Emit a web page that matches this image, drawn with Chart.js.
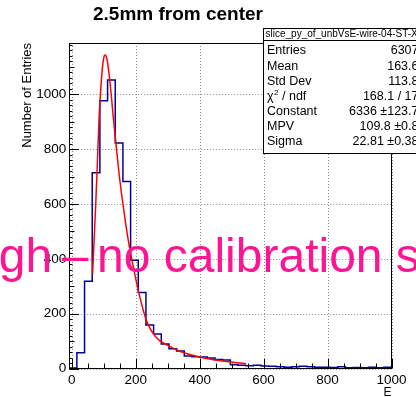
<!DOCTYPE html>
<html>
<head>
<meta charset="utf-8">
<script src="https://cdn.jsdelivr.net/npm/chart.js@4/dist/chart.umd.min.js"></script>
<style>
  html, body { margin: 0; padding: 0; background: #fff; overflow: hidden; }
  #wrap { width: 416px; height: 397px; position: relative; }
</style>
</head>
<body>
<div id="wrap"><canvas id="c" width="416" height="397"></canvas></div>
<script>
// Histogram binning: 42 bins of width 24 starting at -8 (ends at 1000)
const BIN_LOW = -8;
const BIN_WIDTH = 24;
const binCounts = [
  2, 57, 318, 714, 976, 1052, 822, 682, 395, 277,
  159, 126, 89, 72, 64, 46, 43, 42, 38, 33,
  31, 14, 12, 10, 12, 9, 8, 6, 5, 6,
  8, 6, 5, 5, 4, 6, 3, 4, 3, 5,
  3, 5
];

// Landau fit curve (E, entries)
const fitE = [65, 70, 75, 80, 85, 90, 95, 100, 105, 110, 115, 120, 130, 140, 150, 160, 175, 190, 210, 235, 265, 300, 340, 400, 460, 545];
const fitN = [345, 470, 600, 745, 900, 1005, 1085, 1133, 1143, 1128, 1090, 1040, 915, 800, 690, 600, 480, 385, 275, 170, 112, 84, 62, 42, 29, 17];

// Axis ticks
const xTickValues = [0, 200, 400, 600, 800, 1000];
const yTickValues = [0, 200, 400, 600, 800, 1000];
const X_MIN = -8, X_MAX = 1000, Y_MAX = 1187;

// Statistics box
const statsName = "slice_py_of_unbVsE-wire-04-ST-X-5";
const statsLabels = ["Entries", "Mean", "Std Dev", "CHI2", "Constant", "MPV", "Sigma"];
const statsValues = ["6307", "163.6", "113.8", "168.1 / 17", "6336 \u00b1123.7", "109.8 \u00b10.8", "22.81 \u00b10.38"];

const titleText = "2.5mm from center";
const xTitle = "E";
const yTitle = "Number of Entries";
const bannerLead = "high\u2009\u2013";
const bannerTail = "no calibration set";

const FONT = "'Liberation Sans', Arial, Helvetica, sans-serif";

const histPoints = binCounts.map((c, i) => ({ x: BIN_LOW + i * BIN_WIDTH, y: c }));
histPoints.push({ x: BIN_LOW + binCounts.length * BIN_WIDTH, y: binCounts[binCounts.length - 1] });
const fitPoints = fitE.map((e, i) => ({ x: e, y: fitN[i] }));

const rootDecor = {
  id: 'rootDecor',
  beforeDatasetsDraw(chart) {
    const { ctx, chartArea: a, scales: { x, y } } = chart;
    ctx.save();
    ctx.strokeStyle = '#8a8a8a';
    ctx.lineWidth = 1;
    ctx.setLineDash([1, 2]);
    xTickValues.forEach(v => {
      const px = Math.round(x.getPixelForValue(v)) + 0.5;
      ctx.beginPath(); ctx.moveTo(px, a.top); ctx.lineTo(px, a.bottom); ctx.stroke();
    });
    yTickValues.forEach(v => {
      const py = Math.round(y.getPixelForValue(v)) + 0.5;
      ctx.beginPath(); ctx.moveTo(a.left, py); ctx.lineTo(a.right, py); ctx.stroke();
    });
    ctx.restore();
  },
  afterDatasetsDraw(chart) {
    const { ctx, chartArea: a, scales: { x, y } } = chart;
    ctx.save();
    ctx.strokeStyle = '#000';
    ctx.lineWidth = 1;
    ctx.setLineDash([]);
    const L = Math.round(a.left) + 0.5, R = Math.round(a.right) - 0.5;
    const T = Math.round(a.top) + 0.5, B = Math.round(a.bottom) - 0.5;
    ctx.strokeRect(L, T, R - L, B - T);
    // x ticks: major every 200, minor every 50
    for (let v = 0; v <= 1000; v += 50) {
      const px = Math.round(x.getPixelForValue(v)) + 0.5;
      const len = v % 200 === 0 ? 9.5 : 5;
      ctx.beginPath(); ctx.moveTo(px, B); ctx.lineTo(px, B - len); ctx.stroke();
    }
    // y ticks: major every 200, medium every 100, minor every 20
    for (let v = 0; v <= Y_MAX; v += 20) {
      const py = Math.round(y.getPixelForValue(v)) + 0.5;
      const len = v % 200 === 0 ? 9.5 : (v % 100 === 0 ? 5 : 3);
      ctx.beginPath(); ctx.moveTo(L, py); ctx.lineTo(L + len, py); ctx.stroke();
    }
    ctx.restore();
  },
  afterDraw(chart) {
    const { ctx, chartArea: a } = chart;
    ctx.save();
    ctx.fillStyle = '#000';

    // title
    ctx.font = `bold 19px ${FONT}`;
    ctx.textAlign = 'center';
    ctx.textBaseline = 'alphabetic';
    ctx.fillText(titleText, 178, 19.5);

    // axis titles
    ctx.font = `12px ${FONT}`;
    ctx.textAlign = 'right';
    ctx.fillText(xTitle, a.right, 395.5);

    ctx.save();
    ctx.translate(27.5, a.top);
    ctx.rotate(-Math.PI / 2);
    ctx.font = `13px ${FONT}`;
    ctx.textAlign = 'right';
    ctx.textBaseline = 'middle';
    ctx.fillText(yTitle, 0, 0);
    ctx.restore();

    // statistics box
    const bx = 263.5, by = 28.5, bw = 200, bh = 125;
    ctx.fillStyle = '#fff';
    ctx.fillRect(bx, by, bw, bh);
    ctx.strokeStyle = '#000';
    ctx.lineWidth = 1;
    ctx.strokeRect(bx, by, bw, bh);
    ctx.beginPath(); ctx.moveTo(bx, 40.5); ctx.lineTo(bx + bw, 40.5); ctx.stroke();

    ctx.fillStyle = '#000';
    ctx.font = `10px ${FONT}`;
    ctx.textAlign = 'left';
    ctx.textBaseline = 'middle';
    ctx.fillText(statsName, 265.5, 34.5);

    ctx.font = `12.5px ${FONT}`;
    statsLabels.forEach((lab, i) => {
      const cy = 51 + i * 15.1;
      ctx.textAlign = 'left';
      if (lab === 'CHI2') {
        let cx = 267;
        ctx.fillText('\u03c7', cx, cy);
        cx += ctx.measureText('\u03c7').width + 0.5;
        ctx.font = `8px ${FONT}`;
        ctx.fillText('2', cx, cy - 4);
        cx += ctx.measureText('2').width;
        ctx.font = `12.5px ${FONT}`;
        ctx.fillText(' / ndf', cx, cy);
      } else {
        ctx.fillText(lab, 267, cy);
      }
      ctx.textAlign = 'right';
      ctx.fillText(statsValues[i], 418.5, cy);
    });

    // banner text over the plot
    ctx.fillStyle = '#ff1493';
    ctx.font = `48px ${FONT}`;
    ctx.textBaseline = 'alphabetic';
    ctx.textAlign = 'right';
    ctx.fillText(bannerLead, 88.5, 271.5);
    ctx.textAlign = 'left';
    ctx.fillText(bannerTail, 97, 271.5);

    ctx.restore();
  }
};

new Chart(document.getElementById('c'), {
  type: 'line',
  data: {
    datasets: [
      {
        label: 'fit',
        data: fitPoints,
        borderColor: '#ff0000',
        borderWidth: 1.5,
        pointRadius: 0,
        fill: false,
        cubicInterpolationMode: 'monotone'
      },
      {
        label: 'hist',
        data: histPoints,
        borderColor: '#000096',
        borderWidth: 1.5,
        pointRadius: 0,
        fill: false,
        stepped: 'before'
      }
    ]
  },
  options: {
    responsive: false,
    animation: false,
    devicePixelRatio: 1,
    parsing: true,
    layout: { padding: { top: 43, right: 24.5, left: 0, bottom: 0 } },
    plugins: { legend: { display: false }, tooltip: { enabled: false }, title: { display: false } },
    scales: {
      x: {
        type: 'linear',
        min: X_MIN,
        max: X_MAX,
        grid: { display: false, drawTicks: false },
        border: { display: false },
        afterBuildTicks: s => { s.ticks = xTickValues.map(v => ({ value: v })); },
        afterFit: s => { s.height = 28.5; },
        ticks: {
          autoSkip: false, maxRotation: 0, padding: 4,
          color: '#000', font: { family: FONT, size: 13.5 },
          callback: v => String(v)
        }
      },
      y: {
        type: 'linear',
        min: 0,
        max: Y_MAX,
        grid: { display: false, drawTicks: false },
        border: { display: false },
        afterBuildTicks: s => { s.ticks = yTickValues.map(v => ({ value: v })); },
        afterFit: s => { s.width = 69.2; },
        ticks: {
          autoSkip: false, padding: 3,
          color: '#000', font: { family: FONT, size: 13.5 },
          callback: v => String(v)
        }
      }
    }
  },
  plugins: [rootDecor]
});
</script>
</body>
</html>
